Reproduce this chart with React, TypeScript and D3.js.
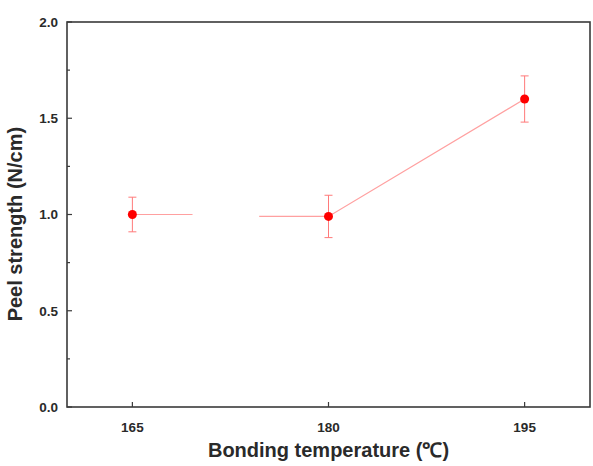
import React, { useEffect, useRef } from 'react';
import * as d3 from 'd3';

// bonding temperature (°C) and peel strength (N/cm)
const temps = [165, 180, 195];
const strength = [1.0, 0.99, 1.6];
const errors = [0.09, 0.11, 0.12];
const xTicks = [165, 180, 195];
const yTicks = [0, 0.5, 1.0, 1.5, 2.0];
const yMinor = [0.25, 0.75, 1.25, 1.75];
// connecting line has a break between these temperatures in the original
const lineGap = [169.6, 174.7];

const App = () => {
  const svgRef = useRef<SVGSVGElement>(null);

  useEffect(() => {
    const margin = { top: 22, right: 3, bottom: 59, left: 67 };
    const W = 593;
    const H = 466;
    const width = W - margin.left - margin.right;
    const height = H - margin.top - margin.bottom;

    const root = d3.select(svgRef.current);
    root.selectAll('*').remove();
    root.attr('width', W).attr('height', H);

    const svg = root.append('g').attr('transform', `translate(${margin.left},${margin.top})`);

    const x = d3.scaleLinear().domain([160, 200]).range([0, width]);
    const y = d3.scaleLinear().domain([0, 2]).range([height, 0]);

    const axisColor = '#3a3a3a';
    const textColor = '#2a2a2a';
    const font = 'Arial, "Liberation Sans", sans-serif';

    // frame
    svg
      .append('rect')
      .attr('x', 0)
      .attr('y', 0)
      .attr('width', width)
      .attr('height', height)
      .attr('fill', 'none')
      .attr('stroke', axisColor)
      .attr('stroke-width', 1.6);

    // y ticks
    svg
      .selectAll('.ytick')
      .data(yTicks)
      .enter()
      .append('line')
      .attr('x1', 0)
      .attr('x2', 5)
      .attr('y1', (d) => y(d))
      .attr('y2', (d) => y(d))
      .attr('stroke', axisColor)
      .attr('stroke-width', 1.2);

    svg
      .selectAll('.yminor')
      .data(yMinor)
      .enter()
      .append('line')
      .attr('x1', 0)
      .attr('x2', 3)
      .attr('y1', (d) => y(d))
      .attr('y2', (d) => y(d))
      .attr('stroke', axisColor)
      .attr('stroke-width', 1.2);

    svg
      .selectAll('.ylabel')
      .data(yTicks)
      .enter()
      .append('text')
      .attr('x', -9)
      .attr('y', (d) => y(d))
      .attr('dy', '0.36em')
      .attr('text-anchor', 'end')
      .attr('font-family', font)
      .attr('font-weight', 'bold')
      .attr('font-size', 13.5)
      .attr('fill', textColor)
      .text((d) => d.toFixed(1));

    // x ticks
    svg
      .selectAll('.xtick')
      .data(xTicks)
      .enter()
      .append('line')
      .attr('x1', (d) => x(d))
      .attr('x2', (d) => x(d))
      .attr('y1', height)
      .attr('y2', height - 5)
      .attr('stroke', axisColor)
      .attr('stroke-width', 1.2);

    svg
      .selectAll('.xlabel')
      .data(xTicks)
      .enter()
      .append('text')
      .attr('x', (d) => x(d))
      .attr('y', height + 25)
      .attr('text-anchor', 'middle')
      .attr('font-family', font)
      .attr('font-weight', 'bold')
      .attr('font-size', 13.5)
      .attr('fill', textColor)
      .text((d) => d);

    // axis titles
    svg
      .append('text')
      .attr('x', x(180))
      .attr('y', height + 50)
      .attr('text-anchor', 'middle')
      .attr('font-family', font)
      .attr('font-weight', 'bold')
      .attr('font-size', 20)
      .attr('fill', textColor)
      .text('Bonding temperature (℃)');

    svg
      .append('text')
      .attr('transform', `translate(${-45},${y(0.95)}) rotate(-90)`)
      .attr('text-anchor', 'middle')
      .attr('font-family', font)
      .attr('font-weight', 'bold')
      .attr('font-size', 20)
      .attr('fill', textColor)
      .text('Peel strength (N/cm)');

    // connecting line, with the break
    const pts = temps.map((t, i) => ({ t, v: strength[i], ok: true }));
    const seg = [
      pts[0],
      { t: lineGap[0], v: strength[0], ok: true },
      { t: (lineGap[0] + lineGap[1]) / 2, v: 0, ok: false },
      { t: lineGap[1], v: strength[1], ok: true },
      pts[1],
      pts[2],
    ];
    const line = d3
      .line<{ t: number; v: number; ok: boolean }>()
      .defined((d) => d.ok)
      .x((d) => x(d.t))
      .y((d) => y(d.v));

    svg
      .append('path')
      .datum(seg)
      .attr('d', line)
      .attr('fill', 'none')
      .attr('stroke', '#ffa0a0')
      .attr('stroke-width', 1.2);

    // error bars
    const eb = svg.selectAll('.err').data(pts).enter().append('g');
    eb.append('line')
      .attr('x1', (d) => x(d.t))
      .attr('x2', (d) => x(d.t))
      .attr('y1', (d, i) => y(d.v + errors[i]))
      .attr('y2', (d, i) => y(d.v - errors[i]))
      .attr('stroke', '#ff7a7a')
      .attr('stroke-width', 1);
    eb.append('line')
      .attr('x1', (d) => x(d.t) - 4)
      .attr('x2', (d) => x(d.t) + 4)
      .attr('y1', (d, i) => y(d.v + errors[i]))
      .attr('y2', (d, i) => y(d.v + errors[i]))
      .attr('stroke', '#ff7a7a')
      .attr('stroke-width', 1);
    eb.append('line')
      .attr('x1', (d) => x(d.t) - 4)
      .attr('x2', (d) => x(d.t) + 4)
      .attr('y1', (d, i) => y(d.v - errors[i]))
      .attr('y2', (d, i) => y(d.v - errors[i]))
      .attr('stroke', '#ff7a7a')
      .attr('stroke-width', 1);

    // markers
    svg
      .selectAll('.pt')
      .data(pts)
      .enter()
      .append('circle')
      .attr('cx', (d) => x(d.t))
      .attr('cy', (d) => y(d.v))
      .attr('r', 4.5)
      .attr('fill', '#ff0000');
  }, []);

  return (
    <svg
      ref={svgRef}
      style={{ position: 'absolute', left: 0, top: 0, background: '#fff' }}
    ></svg>
  );
};

export default App;
